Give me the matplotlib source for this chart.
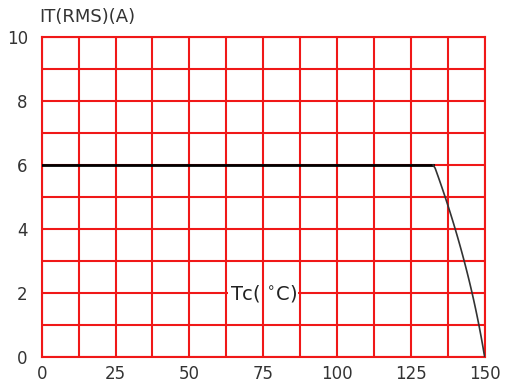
import matplotlib
matplotlib.use("Agg")
import matplotlib.pyplot as plt
import numpy as np

temps = [0, 132.5, 137, 140.2, 142.7, 145.5, 148.1, 150]
current = [6, 6, 5, 4, 3, 2, 1, 0]
xticks = [0, 25, 50, 75, 100, 125, 150]
yticks = [0, 2, 4, 6, 8, 10]

plt.rcParams['font.family'] = ['DejaVu Sans']
fig = plt.figure(figsize=(5.05, 3.85), dpi=100)
ax = fig.add_axes([0.0826, 0.0727, 0.8774, 0.8313])
ax.set_xlim(0, 150)
ax.set_ylim(0, 10)
ax.set_xticks(xticks)
ax.set_yticks(yticks)
ax.tick_params(which='both', length=0, labelsize=12, colors='#333333')
ax.tick_params(axis='x', pad=6)
ax.tick_params(axis='y', pad=10)
red = '#f01818'
for s in ax.spines.values():
    s.set_color(red)
    s.set_linewidth(1.5)
for yv in np.arange(0, 10.1, 1):
    ax.axhline(yv, color=red, lw=1.5, zorder=1)
ax.text(75, 2, "Tc( $^{\\circ}$C)", ha='center', va='center', fontsize=14, color='#222222',
        bbox=dict(facecolor='white', edgecolor='none', pad=1), zorder=2)
for xv in np.arange(0, 150.1, 12.5):
    ax.axvline(xv, color=red, lw=1.5, zorder=3)
ax.plot(temps[:2], current[:2], color='black', lw=2, zorder=4)
# smooth the drooping segment for display
cx = np.array(temps[1:])
cy = np.array(current[1:])
coef = np.polyfit(cy, cx, 2)
yy = np.linspace(cy.max(), cy.min(), 60)
xx = np.polyval(coef, yy)
xx[0], xx[-1] = cx[0], cx[-1]
ax.plot(xx, yy, color='#333333', lw=1.2, zorder=4)
fig.text(0.078, 0.955, "IT(RMS)(A)", fontsize=13, color='#333333', ha='left', va='center')
fig.savefig("out.png", dpi=100)
